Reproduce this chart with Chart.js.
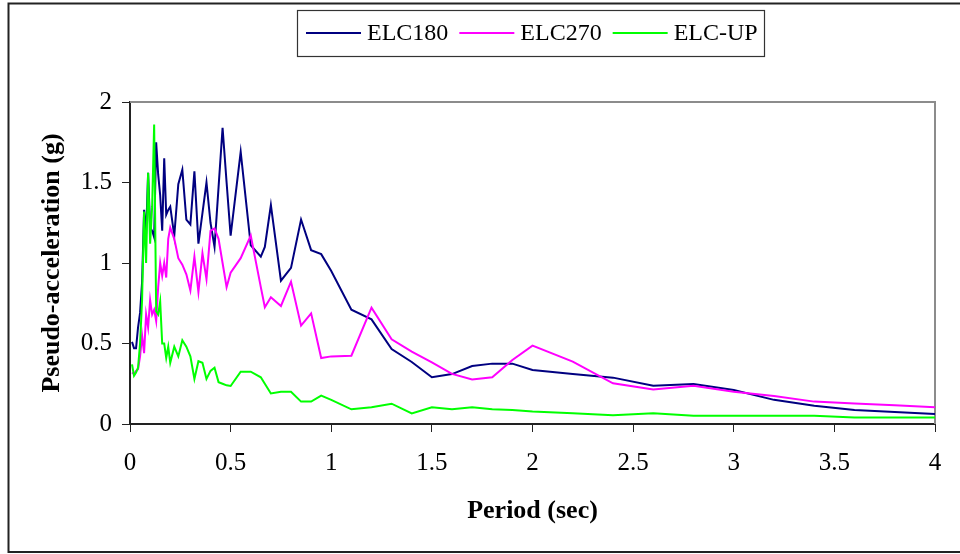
<!DOCTYPE html>
<html>
<head>
<meta charset="utf-8">
<script src="https://cdn.jsdelivr.net/npm/chart.js@4.4.1/dist/chart.umd.min.js"></script>
<style>
  html, body { margin: 0; padding: 0; background: #fff; }
</style>
</head>
<body>
<canvas id="chart" width="960" height="554"></canvas>
<script>
// Data
const periods = [0.01, 0.02, 0.03, 0.04, 0.05, 0.06, 0.07, 0.08, 0.09, 0.10,
  0.11, 0.12, 0.13, 0.14, 0.15, 0.16, 0.17, 0.18, 0.19, 0.20,
  0.22, 0.24, 0.26, 0.28, 0.30, 0.32, 0.34, 0.36, 0.38, 0.40,
  0.42, 0.44, 0.46, 0.48, 0.50, 0.55, 0.60, 0.65, 0.67, 0.70,
  0.75, 0.80, 0.85, 0.90, 0.95, 1.0, 1.1, 1.2, 1.3, 1.4,
  1.5, 1.6, 1.7, 1.8, 1.9, 2.0, 2.2, 2.4, 2.6, 2.8,
  3.0, 3.2, 3.4, 3.6, 3.8, 4.0];

const elc180 = [0.51, 0.47, 0.47, 0.60, 0.69, 0.88, 1.33, 1.18, 1.56, 1.22,
  1.20, 1.16, 1.75, 1.55, 1.42, 1.20, 1.65, 1.30, 1.33, 1.35,
  1.17, 1.49, 1.58, 1.27, 1.24, 1.57, 1.12, 1.31, 1.50, 1.25,
  1.10, 1.47, 1.84, 1.50, 1.17, 1.69, 1.11, 1.04, 1.10, 1.36,
  0.89, 0.97, 1.27, 1.08, 1.055, 0.95, 0.71, 0.65, 0.465, 0.385,
  0.29, 0.31, 0.36, 0.375, 0.375, 0.335, 0.31, 0.288, 0.238, 0.248,
  0.211, 0.15, 0.114, 0.087, 0.075, 0.062];

const elc270 = [0.32, 0.31, 0.33, 0.34, 0.42, 0.55, 0.44, 0.68, 0.60, 0.77,
  0.68, 0.71, 0.64, 0.85, 1.00, 0.92, 1.00, 0.91, 1.15, 1.22,
  1.15, 1.03, 0.99, 0.93, 0.83, 1.04, 0.82, 1.06, 0.90, 1.20,
  1.215, 1.15, 1.00, 0.85, 0.94, 1.03, 1.17, 0.85, 0.725, 0.787,
  0.733, 0.884, 0.611, 0.687, 0.41, 0.42, 0.424, 0.723, 0.526, 0.449,
  0.383, 0.311, 0.277, 0.29, 0.398, 0.487, 0.387, 0.253, 0.215, 0.238,
  0.201, 0.174, 0.139, 0.128, 0.116, 0.104];

const elcUp = [0.37, 0.30, 0.32, 0.35, 0.50, 0.77, 1.32, 1.00, 1.56, 1.12,
  1.35, 1.86, 0.70, 0.68, 0.76, 0.50, 0.50, 0.41, 0.48, 0.38,
  0.48, 0.42, 0.52, 0.48, 0.42, 0.28, 0.39, 0.38, 0.28, 0.33,
  0.35, 0.26, 0.25, 0.24, 0.236, 0.325, 0.325, 0.29, 0.25, 0.19,
  0.20, 0.20, 0.139, 0.139, 0.176, 0.15, 0.091, 0.104, 0.126, 0.066,
  0.104, 0.091, 0.104, 0.091, 0.087, 0.077, 0.066, 0.054, 0.066, 0.052,
  0.052, 0.052, 0.052, 0.041, 0.041, 0.041];

const seriesNames = ['ELC180', 'ELC270', 'ELC-UP'];
const seriesColors = ['#000080', '#FF00FF', '#00FF00'];
const xTicks = [0, 0.5, 1, 1.5, 2, 2.5, 3, 3.5, 4];
const yTicks = [0, 0.5, 1, 1.5, 2];

const SERIF = '"Liberation Serif", "Times New Roman", serif';

const toPoints = vals => vals.map((v, i) => ({ x: periods[i], y: v }));

// gray plot-area edges, outer frame and boxed legend (Excel look)
const framePlugin = {
  id: 'frame',
  beforeDraw(chart) {
    const ctx = chart.ctx;
    ctx.save();
    ctx.fillStyle = '#fff';
    ctx.fillRect(0, 0, chart.width, chart.height);
    ctx.restore();
  },
  beforeDatasetsDraw(chart) {
    const ctx = chart.ctx, a = chart.chartArea;
    ctx.save();
    ctx.strokeStyle = '#8c8c8c';
    ctx.lineWidth = 2;
    ctx.beginPath();
    ctx.moveTo(a.left, a.top);
    ctx.lineTo(a.right, a.top);
    ctx.lineTo(a.right, a.bottom);
    ctx.stroke();
    ctx.restore();
  },
  afterDraw(chart) {
    const ctx = chart.ctx;
    ctx.save();
    // outer frame, right side runs past the picture
    ctx.strokeStyle = '#222';
    ctx.lineWidth = 2;
    ctx.beginPath();
    ctx.moveTo(chart.width + 5, 3.5);
    ctx.lineTo(8.5, 3.5);
    ctx.lineTo(8.5, 552);
    ctx.lineTo(chart.width + 5, 552);
    ctx.stroke();

    // legend
    ctx.strokeStyle = '#333';
    ctx.lineWidth = 1.2;
    ctx.strokeRect(297.5, 10.5, 467, 46);
    ctx.font = '24px ' + SERIF;
    ctx.textBaseline = 'middle';
    ctx.fillStyle = '#000';
    let x = 306;
    const y = 33;
    chart.data.datasets.forEach(ds => {
      ctx.strokeStyle = ds.borderColor;
      ctx.lineWidth = 2;
      ctx.beginPath();
      ctx.moveTo(x, y);
      ctx.lineTo(x + 55, y);
      ctx.stroke();
      x += 61;
      ctx.fillText(ds.label, x, y + 1);
      x += ctx.measureText(ds.label).width + 11;
    });
    ctx.restore();
  }
};

const datasets = [elc180, elc270, elcUp].map((vals, i) => ({
  label: seriesNames[i],
  data: toPoints(vals),
  borderColor: seriesColors[i],
  backgroundColor: seriesColors[i],
  borderWidth: 2,
  pointRadius: 0,
  tension: 0,
  order: 2 - i
}));

new Chart(document.getElementById('chart'), {
  type: 'line',
  data: { datasets },
  plugins: [framePlugin],
  options: {
    responsive: false,
    animation: false,
    layout: { padding: { top: 102, right: 25, bottom: 0, left: 0 } },
    plugins: { legend: { display: false }, tooltip: { enabled: false } },
    scales: {
      x: {
        type: 'linear',
        min: 0,
        max: 4,
        afterBuildTicks: s => { s.ticks = xTicks.map(v => ({ value: v })); },
        afterFit: s => { s.height = 130; },
        ticks: {
          color: '#000',
          font: { family: SERIF, size: 25 },
          padding: 16,
          maxRotation: 0,
          autoSkip: false,
          callback: v => String(v)
        },
        grid: { drawOnChartArea: false, tickLength: 8, color: '#222' },
        border: { color: '#222', width: 2 },
        title: {
          display: true,
          text: 'Period (sec)',
          color: '#000',
          font: { family: SERIF, size: 26, weight: 'bold' },
          padding: { top: 0, bottom: 27 }
        }
      },
      y: {
        min: 0,
        max: 2,
        afterBuildTicks: s => { s.ticks = yTicks.map(v => ({ value: v })); },
        afterFit: s => { s.width = 130; },
        ticks: {
          color: '#000',
          font: { family: SERIF, size: 25 },
          padding: 10,
          callback: v => String(v)
        },
        grid: { drawOnChartArea: false, tickLength: 8, color: '#222' },
        border: { color: '#222', width: 2 },
        title: {
          display: true,
          text: 'Pseudo-acceleration (g)',
          color: '#000',
          font: { family: SERIF, size: 26, weight: 'bold' },
          padding: { top: 37, bottom: 0 }
        }
      }
    }
  }
});
</script>
</body>
</html>
